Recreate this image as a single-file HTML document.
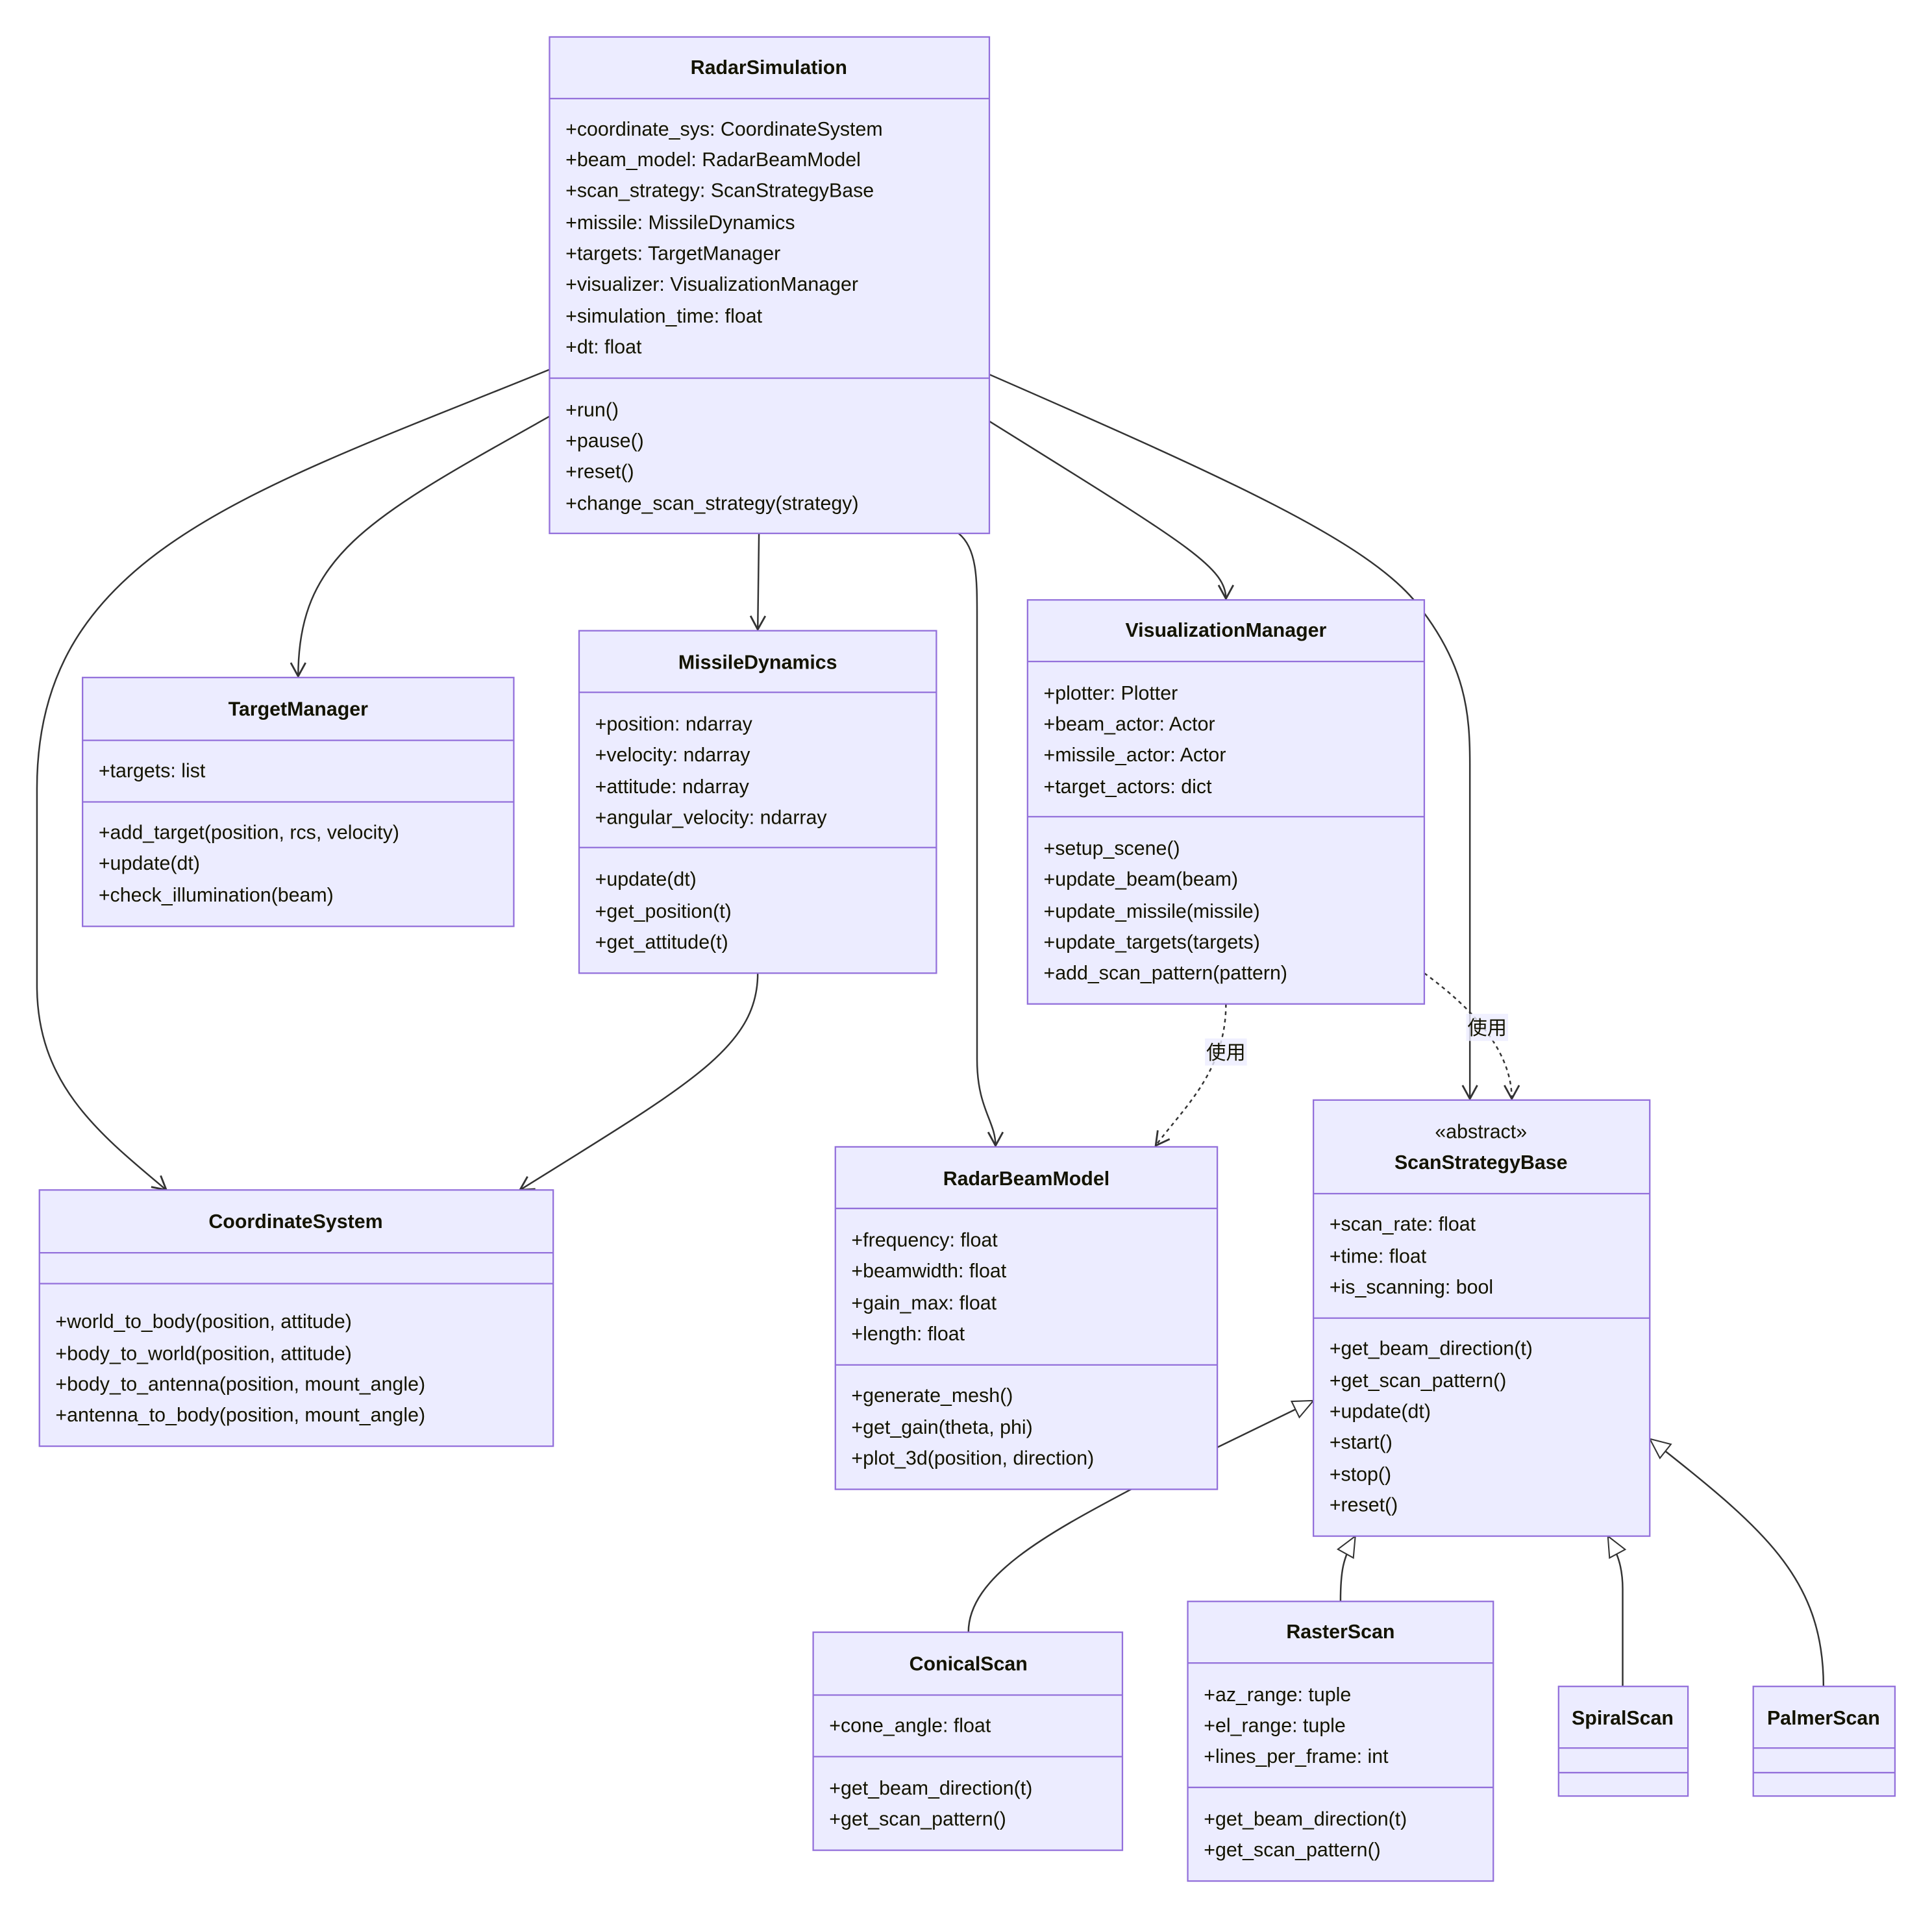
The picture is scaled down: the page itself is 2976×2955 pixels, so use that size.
<!DOCTYPE html>
<html><head><meta charset="utf-8"><style>
html,body{margin:0;padding:0;background:#fff;}
svg{display:block;}
text{font-family:"Liberation Sans","Noto Sans CJK SC",sans-serif;font-size:16px;fill:#131300;}
.t{font-weight:bold;text-anchor:middle;}
.b{fill:#ECECFF;stroke:#9370DB;stroke-width:1.2;}
.d{stroke:#9370DB;stroke-width:1.2;}
.e{fill:none;stroke:#333;stroke-width:1.3;}
.dash{stroke-dasharray:3,3;}
</style></head><body>
<svg width="2976" height="2955" viewBox="0 0 1568 1557" preserveAspectRatio="xMinYMin meet" xmlns="http://www.w3.org/2000/svg">
<defs>
<marker id="arr" viewBox="0 0 14 14" refX="12" refY="7" markerWidth="14" markerHeight="14" markerUnits="userSpaceOnUse" orient="auto">
<path d="M1,1 L12,7 L1,13" fill="none" stroke="#333" stroke-width="1.5"/></marker>
<marker id="tri" viewBox="0 0 20 20" refX="19" refY="9" markerWidth="20" markerHeight="18" markerUnits="userSpaceOnUse" orient="auto">
<path d="M1,1 L19,9 L1,17 Z" fill="#fff" stroke="#333" stroke-width="1.2"/></marker>
</defs>
<rect width="1568" height="1557" fill="#fff"/>

<path class="e" d="M446,300 C200,400 30,450 30,640 L30,800 C30,880 80,920 135,966" marker-end="url(#arr)"/>
<path class="e" d="M446,338 C300,420 242,450 242,549" marker-end="url(#arr)"/>
<path class="e" d="M616,433 L615,511" marker-end="url(#arr)"/>
<path class="e" d="M778,433 C793,445 793,470 793,500 L793,860 C793,900 808,910 808,930" marker-end="url(#arr)"/>
<path class="e" d="M803,342 C960,440 995,460 995,486" marker-end="url(#arr)"/>
<path class="e" d="M803,304 C1000,390 1110,440 1150,490 C1190,540 1193,580 1193,620 L1193,892" marker-end="url(#arr)"/>
<path class="e" d="M615,790 C615,850 560,880 422,966" marker-end="url(#arr)"/>
<path class="e dash" d="M995,815 C995,870 960,900 938,930" marker-end="url(#arr)"/>
<path class="e dash" d="M1156,790 C1190,815 1227,850 1227,892" marker-end="url(#arr)"/>
<path class="e" d="M786,1325 C786,1280 850,1245 918,1209 L1066,1137" marker-end="url(#tri)"/>
<path class="e" d="M1088,1300 C1088,1275 1090,1265 1100,1247" marker-end="url(#tri)"/>
<path class="e" d="M1317,1369 L1317,1290 C1317,1270 1312,1260 1305,1247" marker-end="url(#tri)"/>
<path class="e" d="M1480,1369 C1480,1280 1430,1240 1339,1168" marker-end="url(#tri)"/>

<rect class="b" x="446" y="30" width="357" height="403"/>
<line class="d" x1="446" y1="80" x2="803" y2="80"/><line class="d" x1="446" y1="307" x2="803" y2="307"/>
<text class="t" x="624" y="60">RadarSimulation</text>
<text x="459" y="110">+coordinate_sys: CoordinateSystem</text>
<text x="459" y="135">+beam_model: RadarBeamModel</text>
<text x="459" y="160">+scan_strategy: ScanStrategyBase</text>
<text x="459" y="186">+missile: MissileDynamics</text>
<text x="459" y="211">+targets: TargetManager</text>
<text x="459" y="236">+visualizer: VisualizationManager</text>
<text x="459" y="262">+simulation_time: float</text>
<text x="459" y="287">+dt: float</text>
<text x="459" y="338">+run()</text>
<text x="459" y="363">+pause()</text>
<text x="459" y="388">+reset()</text>
<text x="459" y="414">+change_scan_strategy(strategy)</text>

<rect class="b" x="67" y="550" width="350" height="202"/>
<line class="d" x1="67" y1="601" x2="417" y2="601"/><line class="d" x1="67" y1="651" x2="417" y2="651"/>
<text class="t" x="242" y="581">TargetManager</text>
<text x="80" y="631">+targets: list</text>
<text x="80" y="681">+add_target(position, rcs, velocity)</text>
<text x="80" y="706">+update(dt)</text>
<text x="80" y="732">+check_illumination(beam)</text>

<rect class="b" x="470" y="512" width="290" height="278"/>
<line class="d" x1="470" y1="562" x2="760" y2="562"/><line class="d" x1="470" y1="688" x2="760" y2="688"/>
<text class="t" x="615" y="543">MissileDynamics</text>
<text x="483" y="593">+position: ndarray</text>
<text x="483" y="618">+velocity: ndarray</text>
<text x="483" y="644">+attitude: ndarray</text>
<text x="483" y="669">+angular_velocity: ndarray</text>
<text x="483" y="719">+update(dt)</text>
<text x="483" y="745">+get_position(t)</text>
<text x="483" y="770">+get_attitude(t)</text>

<rect class="b" x="834" y="487" width="322" height="328"/>
<line class="d" x1="834" y1="537" x2="1156" y2="537"/><line class="d" x1="834" y1="663" x2="1156" y2="663"/>
<text class="t" x="995" y="517">VisualizationManager</text>
<text x="847" y="568">+plotter: Plotter</text>
<text x="847" y="593">+beam_actor: Actor</text>
<text x="847" y="618">+missile_actor: Actor</text>
<text x="847" y="644">+target_actors: dict</text>
<text x="847" y="694">+setup_scene()</text>
<text x="847" y="719">+update_beam(beam)</text>
<text x="847" y="745">+update_missile(missile)</text>
<text x="847" y="770">+update_targets(targets)</text>
<text x="847" y="795">+add_scan_pattern(pattern)</text>

<rect x="978" y="843" width="34" height="22" fill="#ECECFF" opacity="0.8"/>
<text x="995" y="860" text-anchor="middle">使用</text>
<rect x="1190" y="823" width="34" height="22" fill="#ECECFF" opacity="0.8"/>
<text x="1207" y="840" text-anchor="middle">使用</text>

<rect class="b" x="32" y="966" width="417" height="208"/>
<line class="d" x1="32" y1="1017" x2="449" y2="1017"/><line class="d" x1="32" y1="1042" x2="449" y2="1042"/>
<text class="t" x="240" y="997">CoordinateSystem</text>
<text x="45" y="1078">+world_to_body(position, attitude)</text>
<text x="45" y="1104">+body_to_world(position, attitude)</text>
<text x="45" y="1129">+body_to_antenna(position, mount_angle)</text>
<text x="45" y="1154">+antenna_to_body(position, mount_angle)</text>

<rect class="b" x="678" y="931" width="310" height="278"/>
<line class="d" x1="678" y1="981" x2="988" y2="981"/><line class="d" x1="678" y1="1108" x2="988" y2="1108"/>
<text class="t" x="833" y="962">RadarBeamModel</text>
<text x="691" y="1012">+frequency: float</text>
<text x="691" y="1037">+beamwidth: float</text>
<text x="691" y="1063">+gain_max: float</text>
<text x="691" y="1088">+length: float</text>
<text x="691" y="1138">+generate_mesh()</text>
<text x="691" y="1164">+get_gain(theta, phi)</text>
<text x="691" y="1189">+plot_3d(position, direction)</text>

<rect class="b" x="1066" y="893" width="273" height="354"/>
<line class="d" x1="1066" y1="969" x2="1339" y2="969"/><line class="d" x1="1066" y1="1070" x2="1339" y2="1070"/>
<text x="1202" y="924" text-anchor="middle">«abstract»</text>
<text class="t" x="1202" y="949">ScanStrategyBase</text>
<text x="1079" y="999">+scan_rate: float</text>
<text x="1079" y="1025">+time: float</text>
<text x="1079" y="1050">+is_scanning: bool</text>
<text x="1079" y="1100">+get_beam_direction(t)</text>
<text x="1079" y="1126">+get_scan_pattern()</text>
<text x="1079" y="1151">+update(dt)</text>
<text x="1079" y="1176">+start()</text>
<text x="1079" y="1202">+stop()</text>
<text x="1079" y="1227">+reset()</text>

<rect class="b" x="660" y="1325" width="251" height="177"/>
<line class="d" x1="660" y1="1376" x2="911" y2="1376"/><line class="d" x1="660" y1="1426" x2="911" y2="1426"/>
<text class="t" x="786" y="1356">ConicalScan</text>
<text x="673" y="1406">+cone_angle: float</text>
<text x="673" y="1457">+get_beam_direction(t)</text>
<text x="673" y="1482">+get_scan_pattern()</text>

<rect class="b" x="964" y="1300" width="248" height="227"/>
<line class="d" x1="964" y1="1350" x2="1212" y2="1350"/><line class="d" x1="964" y1="1451" x2="1212" y2="1451"/>
<text class="t" x="1088" y="1330">RasterScan</text>
<text x="977" y="1381">+az_range: tuple</text>
<text x="977" y="1406">+el_range: tuple</text>
<text x="977" y="1431">+lines_per_frame: int</text>
<text x="977" y="1482">+get_beam_direction(t)</text>
<text x="977" y="1507">+get_scan_pattern()</text>

<rect class="b" x="1265" y="1369" width="105" height="89"/>
<line class="d" x1="1265" y1="1419" x2="1370" y2="1419"/><line class="d" x1="1265" y1="1439" x2="1370" y2="1439"/>
<text class="t" x="1317" y="1400">SpiralScan</text>

<rect class="b" x="1423" y="1369" width="115" height="89"/>
<line class="d" x1="1423" y1="1419" x2="1538" y2="1419"/><line class="d" x1="1423" y1="1439" x2="1538" y2="1439"/>
<text class="t" x="1480" y="1400">PalmerScan</text>
</svg>
</body></html>
